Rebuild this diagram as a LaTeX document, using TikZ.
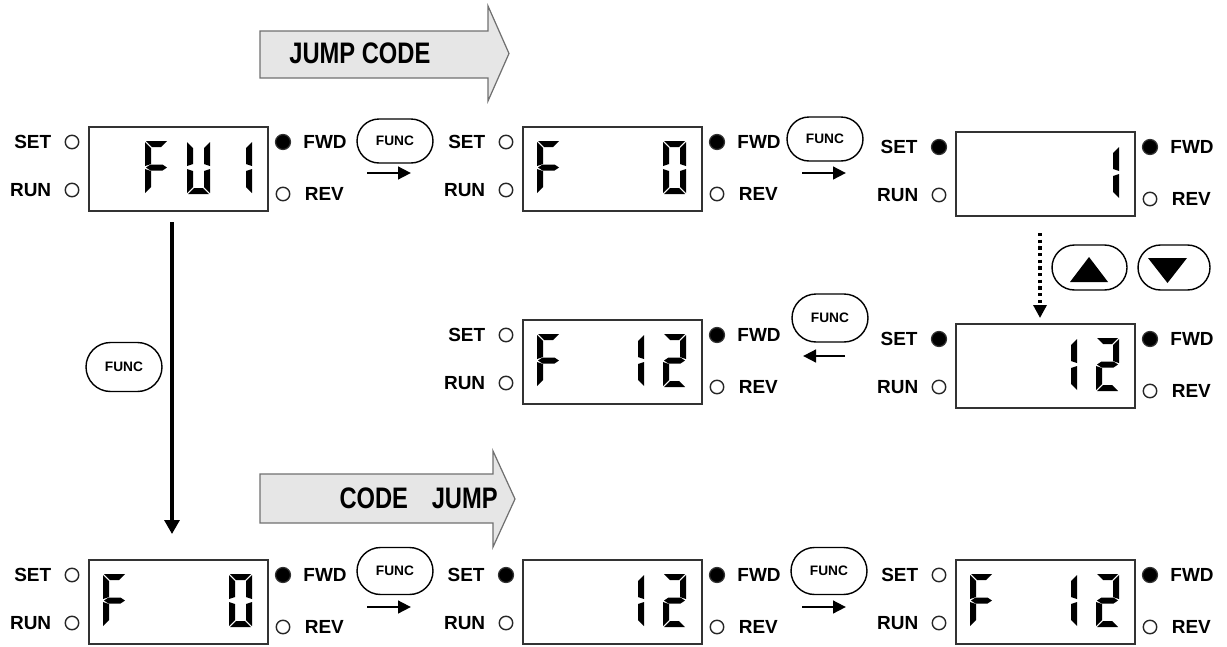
\documentclass[tikz,border=0pt]{standalone}
\usepackage{fontspec}
\setmainfont{Liberation Sans}
\usetikzlibrary{arrows.meta,positioning,shapes.misc}
\definecolor{panelline}{HTML}{333333}
\definecolor{bandfill}{HTML}{E6E6E6}
\definecolor{bandline}{HTML}{707070}
\tikzset{
  lcdbox/.style={draw=panelline,line width=0.9pt,minimum width=3.58cm,minimum height=1.68cm,inner sep=0pt},
  ledon/.style={circle,fill=black,draw=black!80,line width=0.7pt,minimum size=0.3cm,inner sep=0pt},
  ledoff/.style={circle,draw=black!85,line width=0.8pt,fill=white,minimum size=0.27cm,inner sep=0pt},
  lcdlabel/.style={font=\fontsize{10.8}{12}\selectfont\bfseries,inner sep=0pt},
  lcdseg/.style={fill=black},
  keybtn/.style={rounded rectangle,draw=black,line width=0.8pt,minimum width=1.52cm,minimum height=0.88cm,inner sep=0pt,font=\fontsize{7.8}{9}\selectfont\bfseries},
  steparr/.style={-{Triangle[length=2.6mm,width=2.5mm]},line width=1.6pt},
  longarr/.style={-{Triangle[length=2.8mm,width=3mm]},line width=1.8pt},
  dotarr/.style={-{Triangle[length=2.6mm,width=2.6mm]},line width=1.8pt,dash pattern=on 1.8pt off 2pt},
  band/.style={draw=bandline,fill=bandfill,line width=0.7pt},
  bandtext/.style={font=\fontsize{13.5}{16}\selectfont\bfseries,inner sep=0pt}
}
% one seven-segment digit cell is 23 x 53 units, y grows downwards
\newcommand{\segA}{\fill[lcdseg] (1,0) -- (22,0) -- (16,6) -- (7,6) -- cycle;}
\newcommand{\segB}{\fill[lcdseg] (23,1) -- (23,25) -- (17,23) -- (17,7) -- cycle;}
\newcommand{\segC}{\fill[lcdseg] (23,28) -- (23,52) -- (17,46) -- (17,30) -- cycle;}
\newcommand{\segD}{\fill[lcdseg] (1,53) -- (7,47) -- (16,47) -- (22,53) -- cycle;}
\newcommand{\segE}{\fill[lcdseg] (0,28) -- (6,30) -- (6,46) -- (0,52) -- cycle;}
\newcommand{\segF}{\fill[lcdseg] (0,1) -- (6,7) -- (6,23) -- (0,25) -- cycle;}
\newcommand{\segG}{\fill[lcdseg] (1,26.5) -- (5.5,23.5) -- (17.5,23.5) -- (22,26.5) -- (17.5,29.5) -- (5.5,29.5) -- cycle;}
% #1,#2 = top left of the panel box, #3 = cell 1..4, #4 = segments
\newcommand{\lcddigit}[4]{%
  \begin{scope}[shift={(#1+15+42*#3-42,#2+15)}]
    \foreach \s in {#4} {\csname seg\s\endcsname}
  \end{scope}}
% #1 = name, #2,#3 = top left of the box, #4 = style of the SET lamp
\newcommand{\lcdpanel}[4]{%
  \node[lcdbox,anchor=north west] (#1) at (#2,#3) {};
  \node[#4] (#1-set) at (#2-16,#3+16) {};
  \node[ledoff] (#1-run) at (#2-16,#3+64) {};
  \node[ledon] (#1-fwd) at (#2+195,#3+16) {};
  \node[ledoff] (#1-rev) at (#2+195,#3+68) {};
  \node[lcdlabel,left=0.26cm of #1-set] (#1-setl) {SET};
  \node[lcdlabel,left=0.26cm of #1-run] (#1-runl) {RUN};
  \node[lcdlabel,right=0.24cm of #1-fwd] (#1-fwdl) {FWD};
  \node[lcdlabel,right=0.28cm of #1-rev] (#1-revl) {REV};}

\begin{document}
\begin{tikzpicture}[x=0.02cm,y=-0.02cm]
  \useasboundingbox (0,0) rectangle (1227,646);

  % jump code bands
  \draw[band] (260,31) -- (488,31) -- (488,6) -- (509,53.5) -- (488,101) -- (488,78) -- (260,78) -- cycle;
  \node[bandtext,anchor=west] (jumpcode) at (289,53) {\scalebox{1}[1.25]{JUMP CODE}};
  \draw[band] (260,474) -- (493,474) -- (493,451) -- (515,499) -- (493,547) -- (493,523) -- (260,523) -- cycle;
  \node[bandtext,anchor=east] (codejump) at (498,498) {\scalebox{1}[1.25]{CODE\quad JUMP}};

  % panels
  \lcdpanel{p1}{88}{126}{ledoff}
  \lcdpanel{p2}{522}{126}{ledoff}
  \lcdpanel{p3}{955}{131}{ledon}
  \lcdpanel{p4}{522}{319}{ledoff}
  \lcdpanel{p5}{955}{323}{ledon}
  \lcdpanel{p6}{88}{559}{ledoff}
  \lcdpanel{p7}{522}{559}{ledon}
  \lcdpanel{p8}{955}{559}{ledoff}

  % digits
  \lcddigit{88}{126}{2}{A,F,G,E}
  \lcddigit{88}{126}{3}{F,B,E,C,D}
  \lcddigit{88}{126}{4}{B,C}
  \lcddigit{522}{126}{1}{A,F,G,E}
  \lcddigit{522}{126}{4}{A,B,C,D,E,F}
  \lcddigit{955}{131}{4}{B,C}
  \lcddigit{522}{319}{1}{A,F,G,E}
  \lcddigit{522}{319}{3}{B,C}
  \lcddigit{522}{319}{4}{A,B,G,E,D}
  \lcddigit{955}{323}{3}{B,C}
  \lcddigit{955}{323}{4}{A,B,G,E,D}
  \lcddigit{88}{559}{1}{A,F,G,E}
  \lcddigit{88}{559}{4}{A,B,C,D,E,F}
  \lcddigit{522}{559}{3}{B,C}
  \lcddigit{522}{559}{4}{A,B,G,E,D}
  \lcddigit{955}{559}{1}{A,F,G,E}
  \lcddigit{955}{559}{3}{B,C}
  \lcddigit{955}{559}{4}{A,B,G,E,D}

  % keys
  \node[keybtn] (f1) at (395,141) {FUNC};
  \node[keybtn] (f2) at (825,139) {FUNC};
  \node[keybtn,minimum height=0.96cm] (f3) at (830,318) {FUNC};
  \node[keybtn,minimum height=0.94cm] (f4) at (395,571) {FUNC};
  \node[keybtn,minimum height=0.94cm] (f5) at (829,571) {FUNC};
  \node[keybtn,minimum height=0.98cm] (f0) at (124,367) {FUNC};
  \node[keybtn,minimum width=1.5cm,minimum height=0.9cm] (upkey) at (1089.5,267.5) {};
  \node[keybtn,minimum width=1.44cm,minimum height=0.9cm] (downkey) at (1174,267.5) {};
  \fill (1070,282) -- (1108,282) -- (1089,257) -- cycle;
  \fill (1148,258) -- (1187,258) -- (1167.5,283) -- cycle;

  % connectors
  \coordinate (a1s) at (367,173);
  \coordinate (a1e) at (411,173);
  \coordinate (a2s) at (802,173);
  \coordinate (a2e) at (846,173);
  \coordinate (a3s) at (845,356);
  \coordinate (a3e) at (803,356);
  \coordinate (a4s) at (367,607);
  \coordinate (a4e) at (411,607);
  \coordinate (a5s) at (802,607);
  \coordinate (a5e) at (846,607);
  \coordinate (v0) at (172,222);
  \coordinate (v1) at (172,534);
  \coordinate (d0) at (1040,233);
  \coordinate (d1) at (1040,318);
  \draw[steparr] (a1s) -- (a1e);
  \draw[steparr] (a2s) -- (a2e);
  \draw[steparr] (a3s) -- (a3e);
  \draw[steparr] (a4s) -- (a4e);
  \draw[steparr] (a5s) -- (a5e);
  \draw[longarr] (v0) -- (v1);
  \draw[dotarr] (d0) -- (d1);
\end{tikzpicture}
\end{document}
